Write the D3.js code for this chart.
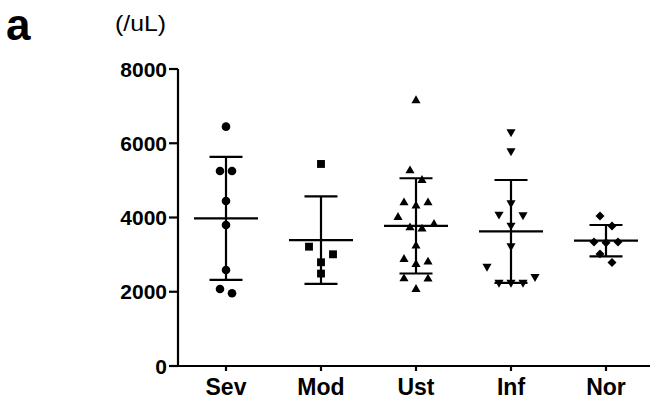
<!DOCTYPE html>
<html>
<head>
<meta charset="utf-8">
<script src="https://cdn.jsdelivr.net/npm/d3@7"></script>
<style>
  html, body { margin: 0; padding: 0; background: #fff; }
  svg { display: block; }
  text { font-family: Arial, "Liberation Sans", sans-serif; fill: #000; }
</style>
</head>
<body>
<svg id="chart" width="650" height="405"></svg>
<script>
// Group names on the x axis
const categories = ["Sev", "Mod", "Ust", "Inf", "Nor"];

// Individual counts per group (/uL)
const sevValues = [6447, 5253, 5253, 4445, 3799, 2586, 2074, 1958];
const modValues = [5442, 3214, 3009, 2794, 2490];
const ustValues = [7148, 5262, 5000, 4400, 4400, 4310, 4006, 3817, 3726, 3691, 3233, 2874, 2802, 2740, 2352, 2344, 2066];
const infValues = [6304, 5792, 4391, 4087, 4068, 3790, 3233, 2680, 2406, 2250, 2250, 2250];
const norValues = [4041, 3772, 3340, 3320, 3340, 3020, 2790];

// Y axis ticks
const yTicks = [0, 2000, 4000, 6000, 8000];

const groups = [sevValues, modValues, ustValues, infValues, norValues];

const svg = d3.select("#chart");

const x = d3.scalePoint().domain(categories).range([226, 606]);
const y = d3.scaleLinear().domain([0, 8000]).range([366, 69]);

const axisLeftX = 178;
const stroke = 2.2;

// Marker shape per group
const circlePath = d3.symbol().type(d3.symbolCircle).size(58)();
const squarePath = d3.symbol().type(d3.symbolSquare).size(62)();
const triPath = d3.symbol().type(d3.symbolTriangle).size(36)();
const diamondPath = d3.symbol().type(d3.symbolSquare).size(40)();
const markers = [
  { d: circlePath, rot: 0 },
  { d: squarePath, rot: 0 },
  { d: triPath, rot: 0 },
  { d: triPath, rot: 180 },
  { d: diamondPath, rot: 45 }
];

// Scatter layout: values that sit close together share a row and spread
// symmetrically around the group centre (outermost first, centre last).
function rowOffsets(values, gapValue, spacing) {
  const idx = values.map((v, i) => i).sort((a, b) => values[b] - values[a]);
  const offsets = new Array(values.length).fill(0);
  let row = [];
  const flush = () => {
    const n = row.length;
    const slots = d3.range(n).map(k => (k - (n - 1) / 2) * spacing);
    const order = [];
    let lo = 0, hi = n - 1;
    while (lo <= hi) {
      order.push(slots[lo]);
      if (hi !== lo) order.push(slots[hi]);
      lo++; hi--;
    }
    row.forEach((i, k) => { offsets[i] = order[k]; });
    row = [];
  };
  idx.forEach((i, k) => {
    if (k > 0 && values[idx[k - 1]] - values[i] > gapValue) flush();
    row.push(i);
  });
  flush();
  return offsets;
}

// Axes
const axisG = svg.append("g");
axisG.append("line")
  .attr("x1", axisLeftX).attr("x2", axisLeftX)
  .attr("y1", y(8000)).attr("y2", y(0))
  .attr("stroke", "#000").attr("stroke-width", stroke);
axisG.append("line")
  .attr("x1", axisLeftX - 8).attr("x2", 650)
  .attr("y1", y(0)).attr("y2", y(0))
  .attr("stroke", "#000").attr("stroke-width", stroke);

yTicks.forEach(t => {
  axisG.append("line")
    .attr("x1", axisLeftX - 9).attr("x2", axisLeftX)
    .attr("y1", y(t)).attr("y2", y(t))
    .attr("stroke", "#000").attr("stroke-width", stroke);
  axisG.append("text")
    .attr("x", axisLeftX - 11).attr("y", y(t))
    .attr("dy", "0.36em")
    .attr("text-anchor", "end")
    .attr("font-size", 21).attr("font-weight", "bold")
    .text(t);
});

categories.forEach(c => {
  axisG.append("line")
    .attr("x1", x(c)).attr("x2", x(c))
    .attr("y1", y(0)).attr("y2", y(0) + 5)
    .attr("stroke", "#000").attr("stroke-width", stroke);
  axisG.append("text")
    .attr("x", x(c)).attr("y", 395)
    .attr("text-anchor", "middle")
    .attr("font-size", 23).attr("font-weight", "bold")
    .text(c);
});

// Unit label and panel letter
svg.append("text").attr("x", 115).attr("y", 31)
  .attr("font-size", 22)
  .attr("textLength", 51).attr("lengthAdjust", "spacingAndGlyphs")
  .text("(/uL)");
svg.append("text").attr("x", 6).attr("y", 40)
  .attr("font-size", 44).attr("font-weight", "bold").text("a");

// Mean ± SD bars and the individual points
groups.forEach((vals, gi) => {
  const cx = x(categories[gi]);
  const mean = d3.mean(vals);
  const sd = d3.deviation(vals);
  const g = svg.append("g");

  g.append("line")
    .attr("x1", cx).attr("x2", cx)
    .attr("y1", y(mean + sd)).attr("y2", y(mean - sd))
    .attr("stroke", "#000").attr("stroke-width", stroke);
  [mean + sd, mean - sd].forEach(v => {
    g.append("line")
      .attr("x1", cx - 16.5).attr("x2", cx + 16.5)
      .attr("y1", y(v)).attr("y2", y(v))
      .attr("stroke", "#000").attr("stroke-width", stroke);
  });
  g.append("line")
    .attr("x1", cx - 32).attr("x2", cx + 32)
    .attr("y1", y(mean)).attr("y2", y(mean))
    .attr("stroke", "#000").attr("stroke-width", stroke);

  const offs = rowOffsets(vals, 290, 12);
  const m = markers[gi];
  g.selectAll("path.pt")
    .data(vals)
    .join("path")
    .attr("class", "pt")
    .attr("d", m.d)
    .attr("transform", (v, i) => `translate(${cx + offs[i]},${y(v)}) rotate(${m.rot})`)
    .attr("fill", "#000");
});
</script>
</body>
</html>
